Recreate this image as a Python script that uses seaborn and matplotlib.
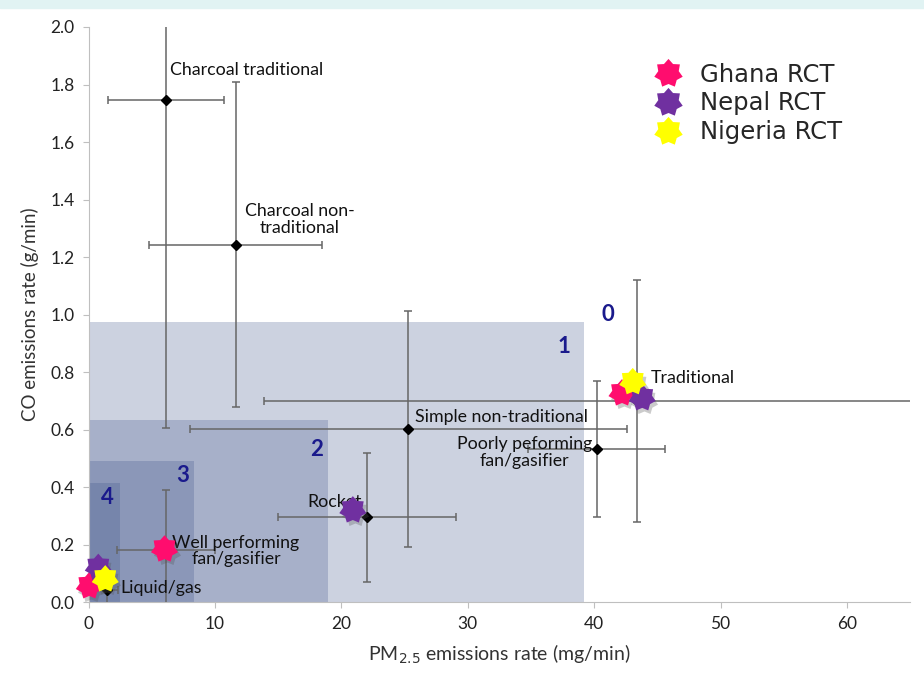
import numpy as np
import pandas as pd
import seaborn as sns
import matplotlib.pyplot as plt
from matplotlib.path import Path
from matplotlib.patches import Rectangle
from matplotlib.lines import Line2D
import matplotlib.transforms as mtransforms

# stove categories (lab emission rates, mean +/- sd)
stoves = ["Charcoal traditional", "Charcoal non-traditional", "Simple non-traditional",
          "Poorly peforming fan/gasifier", "Traditional", "Rocket",
          "Well performing fan/gasifier", "Liquid/gas"]
stove_pm = [6.1, 11.65, 25.3, 40.2, 43.4, 22.0, 6.1, 1.42]
stove_co = [1.746, 1.242, 0.602, 0.532, 0.70, 0.295, 0.181, 0.042]
stove_pm_err = [4.6, 6.85, 17.3, 5.4, 29.5, 7.05, 3.9, 0.9]
stove_co_err = [1.14, 0.565, 0.41, 0.237, 0.42, 0.225, 0.21, 0.05]

# field RCT results
rct_country = ["Ghana RCT", "Ghana RCT", "Ghana RCT",
               "Nepal RCT", "Nepal RCT", "Nepal RCT",
               "Nigeria RCT", "Nigeria RCT"]
rct_pm = [42.2, 6.0, 0.05, 43.8, 20.9, 0.76, 43.05, 1.31]
rct_co = [0.727, 0.184, 0.056, 0.71, 0.32, 0.12, 0.766, 0.08]

# IWA tier limits (PM2.5 mg/min, CO g/min)
tier_names = ["1", "2", "3", "4"]
tier_pm = [39.2, 18.9, 8.3, 2.5]
tier_co = [0.974, 0.632, 0.49, 0.415]

palette = {"Ghana RCT": "#FF0D6E", "Nepal RCT": "#7030A0", "Nigeria RCT": "#FFFF00"}

stove_df = pd.DataFrame({"stove": stoves, "pm": stove_pm, "co": stove_co,
                         "pm_err": stove_pm_err, "co_err": stove_co_err})
rct_df = pd.DataFrame({"country": rct_country, "pm": rct_pm, "co": rct_co})

sns.set_style("white")
plt.rcParams["font.family"] = ["Lato", "DejaVu Sans"]

# 7-point star marker
ang = np.pi / 2 + np.arange(14) * np.pi / 7
rad = np.where(np.arange(14) % 2 == 0, 1.0, 0.72)
star_verts = np.column_stack([rad * np.cos(ang), rad * np.sin(ang)])
star = Path(np.vstack([star_verts, star_verts[:1]]), closed=True)

fig = plt.figure(figsize=(9.24, 6.87), dpi=100)
ax = fig.add_axes([0.096, 0.1237, 0.889, 0.837])

# slide header strip
fig.patches.append(Rectangle((0, 0.988), 1, 0.012, transform=fig.transFigure,
                             color="#E1F3F3", zorder=0))

# tier boxes
for pm, co in zip(tier_pm, tier_co):
    ax.add_patch(Rectangle((0, 0), pm, co, facecolor="#3D5289", alpha=0.26,
                           edgecolor="none", zorder=1))

tier_text = [(41.1, 1.0, "0"), (37.6, 0.887, "1"), (18.0, 0.532, "2"),
             (7.45, 0.44, "3"), (1.45, 0.365, "4")]
for tx, ty, t in tier_text:
    ax.text(tx, ty, t, color="#1A1A8C", fontsize=16, fontweight="bold",
            ha="center", va="center", zorder=3)

# stove error bars
ax.errorbar(stove_df["pm"], stove_df["co"], xerr=stove_df["pm_err"],
            yerr=stove_df["co_err"], fmt="D", color="black", markersize=5,
            ecolor="#666666", elinewidth=1.1, capsize=3, capthick=1.1, zorder=4)

labels = [
    (6.4, 1.85, "Charcoal traditional", "left"),
    (16.7, 1.33, "Charcoal non-\ntraditional", "center"),
    (25.8, 0.643, "Simple non-traditional", "left"),
    (34.5, 0.52, "Poorly peforming\nfan/gasifier", "center"),
    (44.5, 0.78, "Traditional", "left"),
    (17.3, 0.348, "Rocket", "left"),
    (11.65, 0.177, "Well performing\nfan/gasifier", "center"),
    (2.5, 0.049, "Liquid/gas", "left"),
]
for lx, ly, t, ha in labels:
    ax.text(lx, ly, t, ha=ha, va="center", fontsize=12.8, color="#111111",
            linespacing=1.05, zorder=5)

# star shadow then stars
shadow = mtransforms.offset_copy(ax.transData, fig=fig, x=2, y=-3, units="dots")
ax.scatter(rct_df["pm"], rct_df["co"], marker=star, s=400, color="#555555",
           alpha=0.3, linewidths=0, transform=shadow, zorder=6, clip_on=False)
sns.scatterplot(data=rct_df, x="pm", y="co", hue="country", palette=palette,
                marker=star, s=400, linewidth=0, legend=False, ax=ax, zorder=7,
                clip_on=False)

handles = [Line2D([], [], marker=star, linestyle="none", markersize=21,
                  markerfacecolor=c, markeredgewidth=0, label=k)
           for k, c in palette.items()]
ax.legend(handles=handles, loc="upper left", bbox_to_anchor=(0.664, 0.955),
          frameon=False, handletextpad=0.3, labelspacing=0.2, borderaxespad=0,
          prop={"family": "DejaVu Sans", "size": 17.5})

ax.set_xlim(0, 65)
ax.set_ylim(0, 2.0)
ax.set_xticks(np.arange(0, 61, 10))
ax.set_yticks(np.arange(0, 2.01, 0.2))
ax.set_yticklabels([f"{v:.1f}" for v in np.arange(0, 2.01, 0.2)])
ax.tick_params(labelsize=12.5, length=4, color="#BFBFBF", direction="out",
               left=True, bottom=True, pad=6, labelcolor="#222222")
for s in ["top", "right"]:
    ax.spines[s].set_visible(False)
for s in ["left", "bottom"]:
    ax.spines[s].set_color("#BFBFBF")
ax.set_xlabel("PM$_{2.5}$ emissions rate (mg/min)", fontsize=14, color="#333333", labelpad=8)
ax.set_ylabel("CO emissions rate (g/min)", fontsize=13.5, color="#333333", labelpad=8)

fig.savefig("out.png", dpi=100)
